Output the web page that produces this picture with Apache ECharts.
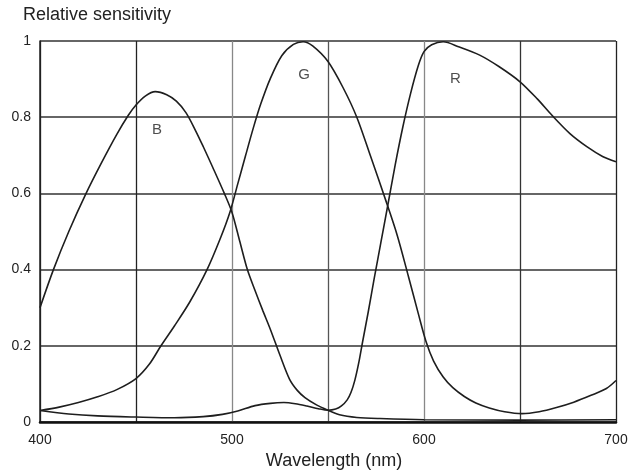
<!DOCTYPE html>
<html><head><meta charset="utf-8">
<script src="https://cdn.jsdelivr.net/npm/echarts@6/dist/echarts.min.js"></script>
<style>html,body{margin:0;padding:0;background:#fff}#c{width:631px;height:476px}</style>
</head><body><div id="c"></div>
<script>
const xTicks = [400, 500, 600, 700];
const yTicks = [0, 0.2, 0.4, 0.6, 0.8, 1];
const curveLabels = [
  { name: 'B', x: 461, y: 0.766 },
  { name: 'G', x: 537.5, y: 0.911 },
  { name: 'R', x: 616.3, y: 0.901 }
];
const blue = [[400,0.30],[407,0.40],[415,0.50],[424,0.60],[432,0.68],[440,0.755],[446,0.805],[450,0.832],[455,0.856],[460,0.867],[466,0.859],[471,0.842],[476,0.812],[481,0.765],[485,0.723],[490,0.668],[496,0.60],[500,0.55],[504,0.475],[508,0.40],[512,0.345],[516,0.293],[520,0.243],[525,0.175],[530,0.112],[534,0.083],[538,0.064],[544,0.045],[550,0.031],[556,0.019],[565,0.012],[577,0.009],[600,0.006],[650,0.005],[700,0.006]];
const green = [[400,0.030],[410,0.039],[420,0.051],[430,0.066],[440,0.085],[450,0.114],[457,0.152],[463,0.20],[470,0.252],[478,0.315],[487,0.40],[494,0.483],[499,0.552],[503,0.625],[507,0.698],[511,0.77],[515,0.835],[520,0.902],[526,0.962],[532,0.991],[537,0.998],[542,0.987],[550,0.946],[558,0.876],[565,0.80],[572,0.70],[580,0.583],[586,0.491],[592,0.38],[597,0.285],[601,0.212],[605,0.16],[610,0.118],[615,0.09],[621,0.067],[627,0.05],[634,0.037],[642,0.027],[651,0.022],[660,0.027],[669,0.038],[678,0.052],[687,0.07],[695,0.088],[700,0.109]];
const red = [[400,0.030],[415,0.021],[430,0.016],[450,0.013],[470,0.011],[485,0.014],[495,0.020],[503,0.029],[512,0.043],[520,0.049],[527,0.051],[533,0.048],[539,0.042],[545,0.035],[550,0.031],[554,0.034],[557,0.042],[560,0.058],[562,0.078],[564,0.11],[566,0.155],[568,0.21],[571,0.29],[574,0.375],[577.5,0.47],[581,0.565],[585,0.675],[589,0.775],[593,0.862],[597,0.935],[600,0.972],[604,0.99],[610,0.998],[618,0.985],[629,0.963],[639,0.933],[650,0.893],[659,0.848],[667,0.803],[676,0.757],[685,0.722],[693,0.697],[700,0.683]];

const FONT = 'Liberation Sans, Arial, Helvetica, sans-serif';
const chart = echarts.init(document.getElementById('c'));
const lineStyle = { color: '#1e1e1e', width: 1.6 };
function mk(name, data) {
  return { name, type: 'line', data, smooth: 0.3, showSymbol: false, symbol: 'none', lineStyle, z: 5, animation: false };
}
chart.setOption({
  animation: false,
  textStyle: { fontFamily: FONT },
  grid: { left: 40, right: 15, top: 41, bottom: 54, show: false },
  title: { text: 'Relative sensitivity', left: 18, top: 1, textStyle: { fontSize: 18, fontWeight: 'normal', color: '#222', fontFamily: FONT } },
  xAxis: {
    type: 'value', min: 400, max: 700, interval: 50,
    name: 'Wavelength (nm)', nameLocation: 'middle', nameGap: 23,
    nameTextStyle: { fontSize: 18, color: '#222', padding: [0, 0, 0, 12] },
    axisLine: { show: true, onZero: false, lineStyle: { color: '#111', width: 2.5 } },
    axisTick: { show: false },
    axisLabel: { fontSize: 14, color: '#222', margin: 11,
      formatter: v => xTicks.includes(v) ? String(v) : '' },
    splitLine: { show: true, lineStyle: { color: ['#222','#222','#888','#555','#888','#333','#222'], width: 1.3 } }
  },
  yAxis: {
    type: 'value', min: 0, max: 1, interval: 0.2,
    axisLine: { show: true, lineStyle: { color: '#222', width: 1.5 } },
    axisTick: { show: false },
    axisLabel: { fontSize: 14, color: '#222', margin: 9,
      formatter: v => { const t = yTicks.find(k => Math.abs(k - v) < 1e-9); return t === undefined ? '' : String(t); } },
    splitLine: { show: true, lineStyle: { color: '#333', width: 1.6 } }
  },
  series: [
    mk('B', blue), mk('G', green), mk('R', red),
    { type: 'scatter', symbolSize: 0, silent: true, z: 6,
      data: curveLabels.map(l => ({ value: [l.x, l.y], label: { show: true, formatter: l.name, position: 'inside', fontSize: 15, color: '#222' } })) }
  ]
});
</script></body></html>
